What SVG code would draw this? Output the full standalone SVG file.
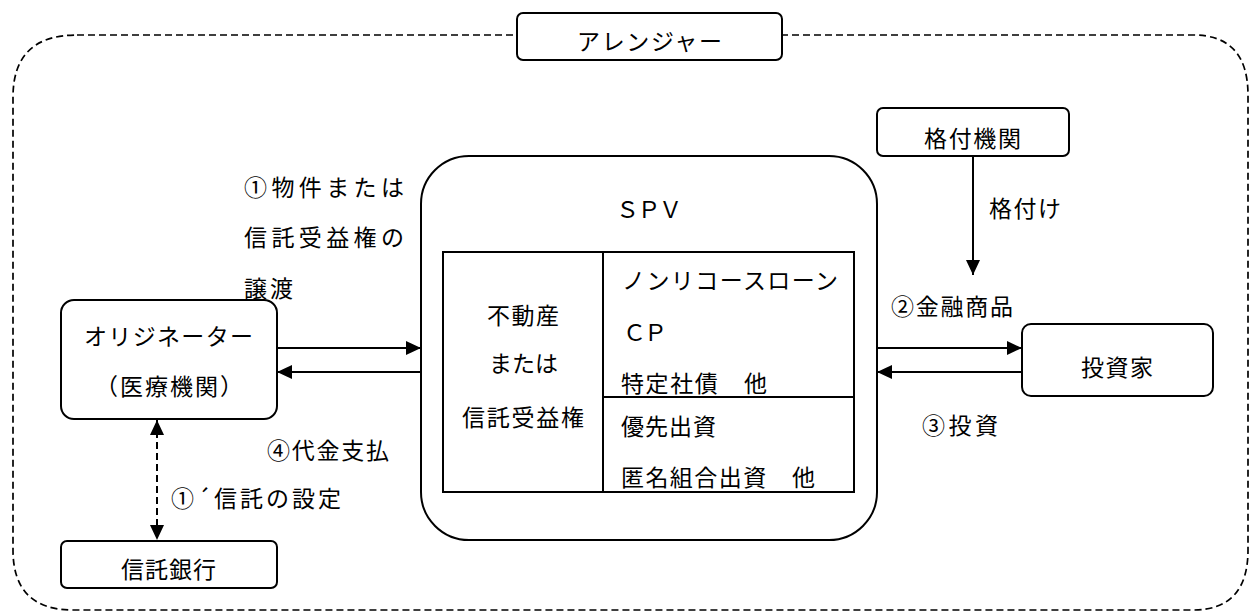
<svg xmlns="http://www.w3.org/2000/svg" width="1253" height="612" viewBox="0 0 1253 612">
<style>
.box{fill:#fff;stroke:#000;stroke-width:2}
.ln{fill:none;stroke:#000;stroke-width:2}
.dash{fill:none;stroke:#000;stroke-width:1.7;stroke-dasharray:7 4}
text{font-family:"Noto Sans CJK JP","Noto Sans CJK SC",sans-serif;font-size:23px;fill:#000;dominant-baseline:central}
</style>
<defs>
<marker id="ah" markerUnits="userSpaceOnUse" markerWidth="16" markerHeight="14" refX="15" refY="7" orient="auto-start-reverse" viewBox="0 0 16 14">
<path d="M0,0 L15,7 L0,14 z" fill="#000"/>
</marker>
</defs>
<g id="arranger-boundary">
<path class="dash" d="M77,35 H1193 Q1248,35 1248,95 V550 Q1248,610 1193,610 H73 Q13,610 13,550 V97 Q13,35 77,35 Z"/>
</g>
<g id="arranger">
<rect class="box" x="517" y="13" width="265" height="47" rx="6"/>
<text x="577" y="40" textLength="145" lengthAdjust="spacing">アレンジャー</text>
</g>
<g id="rating">
<rect class="box" x="877" y="108" width="192" height="48" rx="6"/>
<text x="924" y="137" textLength="97" lengthAdjust="spacing">格付機関</text>
</g>
<g id="investor">
<rect class="box" x="1022" y="324" width="191" height="72" rx="9"/>
<text x="1081" y="366" textLength="72" lengthAdjust="spacing">投資家</text>
</g>
<g id="originator">
<rect class="box" x="61" y="300" width="216" height="119" rx="13"/>
<text x="84" y="335" textLength="169" lengthAdjust="spacing">オリジネーター</text>
<text x="95" y="385" textLength="148" lengthAdjust="spacing">（医療機関）</text>
</g>
<g id="trustbank">
<rect class="box" x="61" y="541" width="216" height="47" rx="6"/>
<text x="121" y="568" textLength="95" lengthAdjust="spacing">信託銀行</text>
</g>
<g id="spv">
<rect class="box" x="421" y="156" width="456" height="384" rx="48"/>
<text x="616" y="208" textLength="66" lengthAdjust="spacing">ＳＰＶ</text>
<rect class="box" x="443" y="252" width="411" height="240"/>
<line class="ln" x1="603" y1="252" x2="603" y2="492"/>
<line class="ln" x1="603" y1="397" x2="854" y2="397"/>
<text x="487" y="314" textLength="72" lengthAdjust="spacing">不動産</text>
<text x="489" y="362" textLength="69" lengthAdjust="spacing">または</text>
<text x="462" y="416" textLength="122" lengthAdjust="spacing">信託受益権</text>
<text x="622" y="279" textLength="216" lengthAdjust="spacing">ノンリコースローン</text>
<text x="623" y="331" textLength="44" lengthAdjust="spacing">ＣＰ</text>
<text x="621" y="382" textLength="146" lengthAdjust="spacing">特定社債　他</text>
<text x="621" y="425" textLength="95" lengthAdjust="spacing">優先出資</text>
<text x="621" y="476" textLength="194" lengthAdjust="spacing">匿名組合出資　他</text>
</g>
<g id="connectors">
<line class="ln" x1="277" y1="348" x2="421" y2="348" marker-end="url(#ah)"/>
<line class="ln" x1="421" y1="372" x2="277" y2="372" marker-end="url(#ah)"/>
<line class="ln" x1="877" y1="348" x2="1022" y2="348" marker-end="url(#ah)"/>
<line class="ln" x1="1022" y1="372" x2="877" y2="372" marker-end="url(#ah)"/>
<line class="ln" x1="973" y1="156" x2="973" y2="275" marker-end="url(#ah)"/>
<line class="ln" x1="157" y1="420" x2="157" y2="540" stroke-dasharray="7 4" marker-start="url(#ah)" marker-end="url(#ah)"/>
<text x="244" y="186" textLength="160" lengthAdjust="spacing">①物件または</text>
<text x="244" y="236" textLength="160" lengthAdjust="spacing">信託受益権の</text>
<text x="244" y="287" textLength="49" lengthAdjust="spacing">譲渡</text>
<text x="267" y="449" textLength="122" lengthAdjust="spacing">④代金支払</text>
<text x="171" y="497" textLength="170" lengthAdjust="spacing">①´信託の設定</text>
<text x="989" y="207" textLength="72" lengthAdjust="spacing">格付け</text>
<text x="891" y="305" textLength="122" lengthAdjust="spacing">②金融商品</text>
<text x="922" y="424" textLength="76" lengthAdjust="spacing">③投資</text>
</g>
</svg>
